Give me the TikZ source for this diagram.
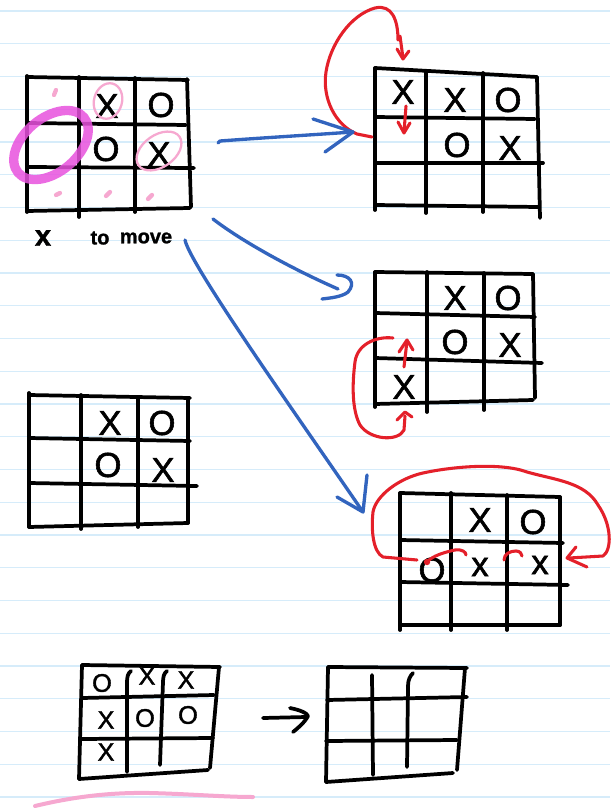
\documentclass[tikz,border=0pt]{standalone}
\usepackage{fontspec}
\newfontface\markfont[FakeBold=1.6]{Liberation Sans}
\newfontface\notefont[FakeBold=1.2]{Liberation Sans Bold}
\definecolor{ruleblue}{RGB}{214,236,250}
\definecolor{penred}{RGB}{228,32,42}
\definecolor{penblue}{RGB}{50,100,190}
\definecolor{penpink}{RGB}{246,168,208}
\definecolor{penmagenta}{RGB}{232,82,222}
\begin{document}
\begin{tikzpicture}[x=0.75pt,y=-0.75pt,
  ink/.style={line width=2.8pt,line cap=round,line join=round,black},
  redink/.style={line width=2.3pt,line cap=round,line join=round,penred},
  blueink/.style={line width=2.5pt,line cap=round,line join=round,penblue},
  pinkink/.style={line width=1.7pt,line cap=round,penpink},
  pinkdot/.style={line width=3.2pt,line cap=round,penpink},
  bigmark/.style={inner sep=0pt,font={\markfont\fontsize{26}{26}\selectfont}},
  smallmark/.style={inner sep=0pt,font={\markfont\fontsize{19}{19}\selectfont}},
  note/.style={inner sep=0pt,font={\notefont\fontsize{15}{15}\selectfont}}]
\useasboundingbox (0,0) rectangle (610,809);
\fill[white] (0,0) rectangle (610,809);
% ruled paper
\foreach \k in {0,...,24}
  \draw[ruleblue,line width=0.9pt] (0,{11+32.75*\k}) -- (610,{11+32.75*\k});

% ---------- board A (top left) ----------
\draw[ink] (27,77) -- (188,80);
\draw[ink] (27,123) -- (186,125);
\draw[ink] (27,167) -- (194,168);
\draw[ink] (27,211) -- (190,208);
\draw[ink] (27,76) -- (27,212);
\draw[ink] (79,77) -- (79,217);
\draw[ink] (135,78) -- (135,212);
\draw[ink] (187,79) -- (191,207);
\node[bigmark] (a12) at (107,106) {X};
\node[bigmark] (a13) at (161,105) {O};
\node[bigmark] (a22) at (106,149) {O};
\node[bigmark] (a23) at (159,154) {X};
% highlights
\draw[pinkink] (108,101) ellipse [x radius=14, y radius=18, rotate=-15];
\draw[pinkink] (159,151) ellipse [x radius=25, y radius=16, rotate=35];
\draw[penmagenta,opacity=0.85,line width=7pt] (51,145) ellipse [x radius=43, y radius=27, rotate=40];
\draw[pinkdot] (54,95) -- (56,90);
\draw[pinkdot] (56,195) -- (60,193);
\draw[pinkdot] (106,196) -- (110,192);
\draw[pinkdot] (148,199) -- (152,195);
\node[note,font={\notefont\fontsize{22}{22}\selectfont}] (lx) at (43,238) {x};
\node[note] (lto) at (100,238) {to};
\node[note] (lmove) at (146,238) {move};

% ---------- board B ----------
\draw[ink] (375,68) -- (537,77);
\draw[ink] (375,117) -- (535,119);
\draw[ink] (375,163) -- (543,163);
\draw[ink] (375,205) -- (538,207);
\draw[ink] (375,68) -- (375,210);
\draw[ink] (426,72) -- (426,213);
\draw[ink] (483,73) -- (483,212);
\draw[ink] (537,77) -- (540,218);
\node[bigmark] (b11) at (403,92) {X};
\node[bigmark] (b12) at (455,100) {X};
\node[bigmark] (b13) at (508,100) {O};
\node[bigmark] (b22) at (457,145) {O};
\node[bigmark] (b23) at (510,148) {X};
\draw[redink] (372,137) -- (357,134) .. controls (335,125) and (322,98) .. (326,72)
  .. controls (330,45) and (350,15) .. (375,8) .. controls (392,4) and (398,20) .. (398,40);
\draw[redink] (400,36) -- (403,58);
\draw[redink] (397,49) -- (403,59) -- (409,51);
\draw[redink] (406,106) -- (404,132);
\draw[redink] (398,122) -- (404,133) -- (410,123);

% ---------- board C ----------
\draw[ink] (375,272) -- (533,274);
\draw[ink] (375,313) -- (535,317);
\draw[ink] (375,358) -- (542,363);
\draw[ink] (375,404) -- (533,400);
\draw[ink] (375,272) -- (375,407);
\draw[ink] (427,272) -- (427,412);
\draw[ink] (484,273) -- (484,410);
\draw[ink] (533,274) -- (535,398);
\node[bigmark] (c12) at (455,298) {X};
\node[bigmark] (c13) at (508,298) {O};
\node[bigmark] (c22) at (455,342) {O};
\node[bigmark] (c23) at (510,345) {X};
\node[bigmark] (c31) at (404,387) {X};
\draw[redink] (404,367) -- (407,341);
\draw[redink] (399,352) -- (407,340) -- (413,350);
\draw[redink] (393,338) .. controls (375,336) and (357,345) .. (355,362)
  .. controls (352,385) and (352,410) .. (360,425)
  .. controls (370,440) and (398,442) .. (404,430) -- (405,416);
\draw[redink] (397,420) -- (405,412) -- (412,417);

% ---------- board D ----------
\draw[ink] (400,493) -- (560,497);
\draw[ink] (400,540) -- (563,543);
\draw[ink] (400,582) -- (568,585);
\draw[ink] (400,625) -- (560,625);
\draw[ink] (400,493) -- (400,630);
\draw[ink] (451,493) -- (451,630);
\draw[ink] (507,495) -- (507,630);
\draw[ink] (560,497) -- (560,625);
\node[bigmark] (d12) at (480,520) {X};
\node[bigmark] (d13) at (533,522) {O};
\node[bigmark] (d21) at (432,570) {O};
\node[bigmark] (d22) at (480,567) {x};
\node[bigmark] (d23) at (540,565) {x};
\draw[redink] (417,560) -- (383,557) .. controls (373,552) and (371,530) .. (373,512)
  .. controls (376,495) and (400,478) .. (423,473)
  .. controls (450,467) and (500,462) .. (527,472)
  .. controls (555,480) and (585,482) .. (598,505)
  .. controls (612,525) and (612,550) .. (603,556) -- (569,558);
\draw[redink] (576,547) -- (567,558) -- (587,567);
\fill[penred] (427,562) circle (3.2);
\draw[redink] (427,562) .. controls (432,556) and (445,552) .. (455,550)
  .. controls (462,549) and (466,552) .. (466,555);
\draw[redink] (504,560) .. controls (504,554) and (510,551) .. (516,551)
  .. controls (520,551) and (522,554) .. (522,556);

% ---------- board E ----------
\draw[ink] (29,395) -- (190,398);
\draw[ink] (29,438) -- (190,441);
\draw[ink] (29,483) -- (197,486);
\draw[ink] (29,527) -- (188,523);
\draw[ink] (29,393) -- (29,527);
\draw[ink] (81,395) -- (81,529);
\draw[ink] (138,397) -- (138,527);
\draw[ink] (188,398) -- (188,523);
\node[bigmark] (e12) at (110,423) {X};
\node[bigmark] (e13) at (162,423) {O};
\node[bigmark] (e22) at (108,465) {O};
\node[bigmark] (e23) at (163,470) {X};

% ---------- blue arrows between boards ----------
\draw[blueink] (218,143) -- (220,141) .. controls (260,138) and (310,135) .. (353,132);
\draw[blueink] (313,119) -- (353,132) -- (325,152);
\draw[blueink] (213,219) .. controls (240,240) and (290,268) .. (338,289);
\draw[blueink] (337,275) .. controls (350,275) and (356,283) .. (348,292)
  .. controls (342,297) and (330,298) .. (322,299);
\draw[blueink] (185,240) .. controls (190,265) and (300,420) .. (363,512);
\draw[blueink] (367,475) -- (363,512) -- (337,497);

% ---------- board F (bottom left) ----------
\draw[ink] (82,665) -- (220,667);
\draw[ink] (82,698) -- (214,695);
\draw[ink] (80,739) -- (213,738);
\draw[ink] (79,779) -- (208,770);
\draw[ink] (82,665) -- (79,779);
\draw[ink] (219,667) -- (210,768);
\draw[ink] (131,671) .. controls (128,673) and (127,677) .. (127,682) -- (127,772);
\draw[ink] (167,671) .. controls (164,673) and (163,677) .. (163,682) -- (160,765);
\node[smallmark] (f11) at (102,683) {O};
\node[smallmark] (f12) at (147,676) {X};
\node[smallmark] (f13) at (186,680) {X};
\node[smallmark] (f21) at (106,720) {X};
\node[smallmark] (f22) at (145,718) {O};
\node[smallmark] (f23) at (188,715) {O};
\node[smallmark] (f31) at (106,752) {X};

% arrow between the last two boards
\draw[ink] (263,718) -- (306,717);
\draw[ink] (290,708) .. controls (300,710) and (307,713) .. (308,716)
  .. controls (305,722) and (298,728) .. (293,732);

% ---------- board G (empty) ----------
\draw[ink] (328,667) -- (467,668);
\draw[ink] (327,700) -- (467,697);
\draw[ink] (326,741) -- (457,740);
\draw[ink] (326,782) -- (453,773);
\draw[ink] (328,667) -- (326,782);
\draw[ink] (465,668) -- (457,770);
\draw[ink] (372,675) -- (373,775);
\draw[ink] (413,673) .. controls (410,676) and (408,680) .. (408,686) -- (407,767);

% pink underline
\draw[penpink,line width=3pt,line cap=round] (35,806) .. controls (60,800) and (100,792) .. (150,793)
  .. controls (190,794) and (225,797) .. (253,797);
\end{tikzpicture}
\end{document}
